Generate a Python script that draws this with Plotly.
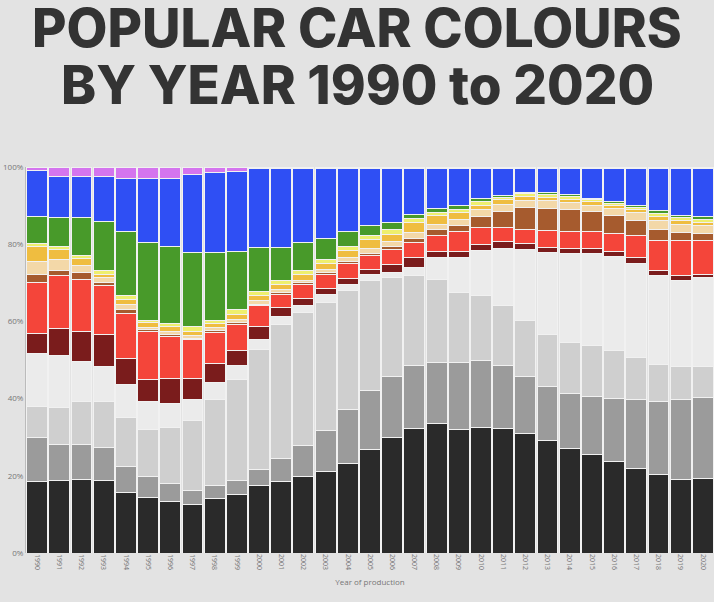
import plotly.graph_objects as go

years = [str(y) for y in range(1990, 2021)]

# share of each colour per year, in percent (bottom of the stack first)
black = [18.4, 18.7, 19.1, 18.7, 15.8, 14.5, 13.3, 12.6, 14.2, 15.2, 17.4, 18.5, 19.7, 21.0, 23.3, 26.8,
         29.8, 32.2, 33.5, 32.1, 32.6, 32.3, 30.9, 29.1, 27.0, 25.4, 23.6, 22.0, 20.3, 19.1, 19.3]
dark_grey = [11.5, 9.5, 9.1, 8.7, 6.6, 5.3, 4.6, 3.7, 3.3, 3.5, 4.3, 6.1, 8.2, 10.7, 14.0, 15.4,
             16.0, 16.5, 15.9, 17.2, 17.3, 16.4, 14.9, 14.1, 14.3, 15.1, 16.3, 17.7, 19.0, 20.6, 21.1]
silver = [8.0, 9.5, 11.1, 11.9, 12.6, 12.1, 14.5, 18.1, 22.2, 26.2, 31.0, 34.6, 34.4, 33.1, 30.6, 28.5,
          25.5, 23.1, 21.5, 18.1, 16.7, 15.3, 14.5, 13.4, 13.2, 13.3, 12.6, 11.0, 9.5, 8.7, 8.0]
white = [13.8, 13.5, 10.4, 8.9, 8.6, 7.4, 6.3, 5.3, 4.5, 3.6, 2.6, 2.2, 1.7, 2.2, 1.7, 1.5,
         1.3, 2.1, 5.6, 9.1, 11.7, 14.9, 18.4, 21.2, 23.2, 23.9, 24.3, 24.4, 23.0, 22.3, 22.9]
maroon = [5.2, 7.0, 7.8, 8.4, 6.7, 5.6, 6.4, 5.6, 4.8, 4.0, 3.5, 2.2, 1.9, 1.5, 1.5, 1.3,
          2.2, 2.6, 1.5, 1.5, 1.7, 1.7, 1.6, 1.3, 1.2, 1.2, 1.3, 1.4, 1.4, 1.1, 0.9]
red = [13.2, 13.6, 13.4, 12.6, 11.8, 12.6, 11.1, 10.0, 8.2, 6.7, 5.2, 3.4, 3.7, 3.7, 4.0, 3.6,
       3.9, 3.9, 4.3, 5.2, 4.3, 3.7, 3.6, 4.4, 4.3, 4.3, 4.8, 5.8, 7.7, 9.1, 8.8]
brown = [2.1, 1.5, 1.7, 1.0, 1.0, 0.4, 0.4, 0.4, 0.5, 0.5, 0.4, 0.4, 0.4, 0.4, 0.3, 0.6,
         0.7, 1.2, 1.4, 1.6, 2.8, 4.1, 5.5, 5.8, 5.7, 5.2, 4.5, 3.9, 3.0, 2.1, 1.9]
beige = [3.2, 2.8, 1.8, 1.1, 1.3, 0.6, 0.9, 0.7, 0.7, 0.8, 0.9, 0.9, 0.7, 0.9, 1.1, 1.2,
         1.2, 1.4, 1.5, 1.7, 2.0, 2.0, 1.9, 2.0, 1.9, 1.7, 1.9, 2.0, 2.2, 2.2, 1.9]
gold = [4.1, 2.6, 1.9, 0.9, 1.3, 1.2, 1.3, 1.1, 1.1, 1.3, 1.5, 1.3, 1.5, 1.6, 1.8, 2.4,
        2.0, 2.5, 2.2, 1.7, 1.0, 1.1, 1.1, 0.8, 0.9, 0.9, 0.6, 0.7, 1.1, 0.9, 0.8]
yellow = [0.8, 0.7, 0.7, 0.9, 0.9, 0.6, 0.7, 1.1, 0.8, 1.3, 0.9, 0.9, 0.9, 1.0, 1.0, 0.9,
          1.1, 1.2, 0.8, 0.9, 0.9, 0.6, 0.7, 0.7, 0.7, 0.5, 0.7, 0.6, 0.8, 0.9, 0.9]
green = [7.0, 7.4, 9.8, 12.8, 16.6, 20.1, 19.9, 19.2, 17.5, 14.9, 11.4, 8.6, 7.3, 5.5, 3.9, 2.6,
         1.9, 1.1, 1.1, 1.0, 0.9, 0.6, 0.3, 0.6, 0.6, 0.4, 0.4, 0.4, 0.7, 0.5, 0.7]
blue = [11.8, 10.8, 10.8, 11.6, 13.9, 16.5, 17.7, 20.2, 20.8, 20.9, 20.4, 20.5, 19.2, 18.0, 16.4, 14.9,
        14.1, 11.9, 10.4, 9.6, 7.8, 7.0, 6.3, 6.3, 6.7, 7.8, 8.7, 9.8, 11.0, 12.2, 12.5]
purple = [0.9, 2.4, 2.4, 2.5, 2.9, 3.1, 2.9, 2.0, 1.4, 1.1, 0.5, 0.4, 0.4, 0.4, 0.4, 0.3,
          0.3, 0.3, 0.3, 0.3, 0.3, 0.3, 0.3, 0.3, 0.3, 0.3, 0.3, 0.3, 0.3, 0.3, 0.3]

y_ticks = [0, 20, 40, 60, 80, 100]
y_labels = ['0%', '20%', '40%', '60%', '80%', '100%']

series = [
    ('Black', black, '#2a2a2a'),
    ('Dark grey', dark_grey, '#9b9b9b'),
    ('Silver', silver, '#cfcfcf'),
    ('White', white, '#ebebeb'),
    ('Maroon', maroon, '#7a1c1c'),
    ('Red', red, '#f4453a'),
    ('Brown', brown, '#a65b2e'),
    ('Beige', beige, '#f3d8a8'),
    ('Gold', gold, '#efbd40'),
    ('Yellow', yellow, '#eeef6e'),
    ('Green', green, '#489a2a'),
    ('Blue', blue, '#2f4ff4'),
    ('Purple', purple, '#d475ee'),
]


def make_fig():
    fig = go.Figure()
    for name, vals, col in series:
        fig.add_trace(go.Bar(
            x=years, y=vals, name=name,
            marker_color=col,
            marker_line_color='#f1f1f1',
            marker_line_width=1,
        ))

    fig.update_layout(
        width=714, height=602,
        barmode='stack', bargap=0.06,
        showlegend=False,
        paper_bgcolor='#e3e3e3', plot_bgcolor='#e3e3e3',
        margin=dict(l=26, r=0, t=167, b=49, autoexpand=False),
        font=dict(family='Open Sans', color='#666666'),
    )
    fig.update_yaxes(
        range=[0, 100], tickvals=y_ticks, ticktext=y_labels,
        tickfont=dict(size=8, color='#777777'), showgrid=False, zeroline=False,
        showline=True, linecolor='#bbbbbb', linewidth=1, ticks='',
    )
    fig.update_xaxes(
        tickangle=90, tickfont=dict(size=7, color='#777777'),
        title=dict(text='Year of production', font=dict(size=8, color='#777777'), standoff=10),
        showgrid=False, showline=False,
    )

    # two-line heading
    for txt, yy in [('POPULAR CAR COLOURS', 28), ('BY YEAR 1990 to 2020', 85)]:
        fig.add_annotation(
            text=txt, xref='paper', yref='paper', x=(357 - 26) / 688, xanchor='center',
            y=1 + (167 - yy) / 386, yanchor='middle', showarrow=False,
            font=dict(family='Inter', size=53, color='#333333', weight=800),
        )
    return fig


def main():
    fig = make_fig()
    # the page body has a default margin; drop it so the figure sits at 0,0
    fig.write_html('out.html', config={'displayModeBar': False},
                   post_script="document.body.style.margin='0';")


if __name__ == '__main__':
    main()
